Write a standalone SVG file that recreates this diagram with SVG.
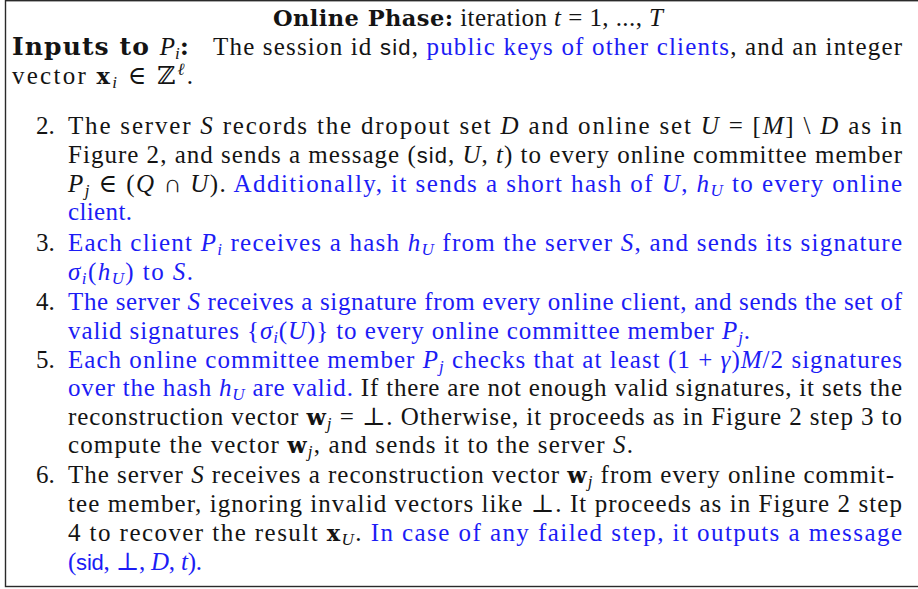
<svg xmlns="http://www.w3.org/2000/svg" width="918" height="589" viewBox="0 0 918 589">
  <style>
    text { font-family: "Liberation Serif", "DejaVu Serif", "Times New Roman", serif; font-size: 25px; fill: #141414; }
    .bl { fill: #1c1cf5; }
    .i { font-style: italic; }
    .bf { font-family: "DejaVu Serif", "Liberation Serif", serif; font-weight: bold; font-size: 22.5px; }
    .hd { font-size: 25px; letter-spacing: 1.1px; }
    .sf { font-family: "Liberation Sans", "DejaVu Sans", Arial, sans-serif; font-size: 22px; }
    .sub { font-size: 17px; }
    .num { fill: #141414; }
  </style>
  <rect x="5.5" y="0.7" width="930" height="585.8" fill="#ffffff" stroke="#2a2a2a" stroke-width="1.4"/>

  <!-- heading and inputs -->
  <g id="header">
    <text x="273" y="26" textLength="390" lengthAdjust="spacing"><tspan class="bf">Online Phase:</tspan> iteration <tspan class="i">t</tspan> = 1, ..., <tspan class="i">T</tspan></text>
    <text x="12" y="55"><tspan class="bf hd">Inputs to </tspan><tspan class="i">P</tspan><tspan class="sub i" baseline-shift="-4">i</tspan><tspan class="bf hd">:</tspan></text>
    <text x="213" y="55" textLength="689" lengthAdjust="spacing">The session id <tspan class="sf">sid</tspan>, <tspan class="bl">public keys of other clients</tspan>, and an integer</text>
    <text x="12" y="83.5" textLength="181" lengthAdjust="spacing">vector <tspan class="bf">x</tspan><tspan class="sub i" baseline-shift="-4">i</tspan> ∈ ℤ<tspan class="sub i" baseline-shift="9">ℓ</tspan>.</text>
  </g>

  <!-- step 2 -->
  <g id="step2">
    <text class="num" x="36" y="133.5">2.</text>
    <text x="68" y="133.5" textLength="834" lengthAdjust="spacing">The server <tspan class="i">S</tspan> records the dropout set <tspan class="i">D</tspan> and online set <tspan class="i">U</tspan> = [<tspan class="i">M</tspan>] \ <tspan class="i">D</tspan> as in</text>
    <text x="68" y="162.5" textLength="834" lengthAdjust="spacing">Figure 2, and sends a message (<tspan class="sf">sid</tspan>, <tspan class="i">U</tspan>, <tspan class="i">t</tspan>) to every online committee member</text>
    <text x="68" y="191.5" textLength="834" lengthAdjust="spacing"><tspan class="i">P</tspan><tspan class="sub i" baseline-shift="-4">j</tspan> ∈ (<tspan class="i">Q</tspan> ∩ <tspan class="i">U</tspan>). <tspan class="bl">Additionally, it sends a short hash of <tspan class="i">U</tspan>, <tspan class="i">h</tspan><tspan class="sub i" baseline-shift="-4">U</tspan> to every online</tspan></text>
    <text class="bl" x="68" y="220" textLength="64" lengthAdjust="spacing">client.</text>
  </g>

  <!-- step 3 -->
  <g id="step3">
    <text class="num" x="36" y="251">3.</text>
    <text class="bl" x="68" y="251" textLength="834" lengthAdjust="spacing">Each client <tspan class="i">P</tspan><tspan class="sub i" baseline-shift="-4">i</tspan> receives a hash <tspan class="i">h</tspan><tspan class="sub i" baseline-shift="-4">U</tspan> from the server <tspan class="i">S</tspan>, and sends its signature</text>
    <text class="bl" x="68" y="280" textLength="125" lengthAdjust="spacing"><tspan class="i">σ</tspan><tspan class="sub i" baseline-shift="-4">i</tspan>(<tspan class="i">h</tspan><tspan class="sub i" baseline-shift="-4">U</tspan>) to <tspan class="i">S</tspan>.</text>
  </g>

  <!-- step 4 -->
  <g id="step4">
    <text class="num" x="36" y="310">4.</text>
    <text class="bl" x="68" y="310" textLength="834" lengthAdjust="spacing">The server <tspan class="i">S</tspan> receives a signature from every online client, and sends the set of</text>
    <text class="bl" x="68" y="338.5" textLength="682" lengthAdjust="spacing">valid signatures {<tspan class="i">σ</tspan><tspan class="sub i" baseline-shift="-4">i</tspan>(<tspan class="i">U</tspan>)} to every online committee member <tspan class="i">P</tspan><tspan class="sub i" baseline-shift="-4">j</tspan>.</text>
  </g>

  <!-- step 5 -->
  <g id="step5">
    <text class="num" x="36" y="367.5">5.</text>
    <text class="bl" x="68" y="367.5" textLength="834" lengthAdjust="spacing">Each online committee member <tspan class="i">P</tspan><tspan class="sub i" baseline-shift="-4">j</tspan> checks that at least (1 + <tspan class="i">γ</tspan>)<tspan class="i">M</tspan>/2 signatures</text>
    <text x="68" y="396" textLength="834" lengthAdjust="spacing"><tspan class="bl">over the hash <tspan class="i">h</tspan><tspan class="sub i" baseline-shift="-4">U</tspan> are valid.</tspan>  If there are not enough valid signatures, it sets the</text>
    <text x="68" y="424.5" textLength="834" lengthAdjust="spacing">reconstruction vector <tspan class="bf">w</tspan><tspan class="sub i" baseline-shift="-4">j</tspan> = ⊥. Otherwise, it proceeds as in Figure 2 step 3 to</text>
    <text x="68" y="453" textLength="565" lengthAdjust="spacing">compute the vector <tspan class="bf">w</tspan><tspan class="sub i" baseline-shift="-4">j</tspan>, and sends it to the server <tspan class="i">S</tspan>.</text>
  </g>

  <!-- step 6 -->
  <g id="step6">
    <text class="num" x="36" y="483">6.</text>
    <text x="68" y="483" textLength="826" lengthAdjust="spacing">The server <tspan class="i">S</tspan> receives a reconstruction vector <tspan class="bf">w</tspan><tspan class="sub i" baseline-shift="-4">j</tspan> from every online commit-</text>
    <text x="68" y="512" textLength="834" lengthAdjust="spacing">tee member, ignoring invalid vectors like ⊥. It proceeds as in Figure 2 step</text>
    <text x="68" y="541" textLength="834" lengthAdjust="spacing">4 to recover the result <tspan class="bf">x</tspan><tspan class="sub i" baseline-shift="-4">U</tspan>. <tspan class="bl">In case of any failed step, it outputs a message</tspan></text>
    <text class="bl" x="68" y="570" textLength="134" lengthAdjust="spacing">(<tspan class="sf">sid</tspan>, ⊥, <tspan class="i">D</tspan>, <tspan class="i">t</tspan>).</text>
  </g>
</svg>
